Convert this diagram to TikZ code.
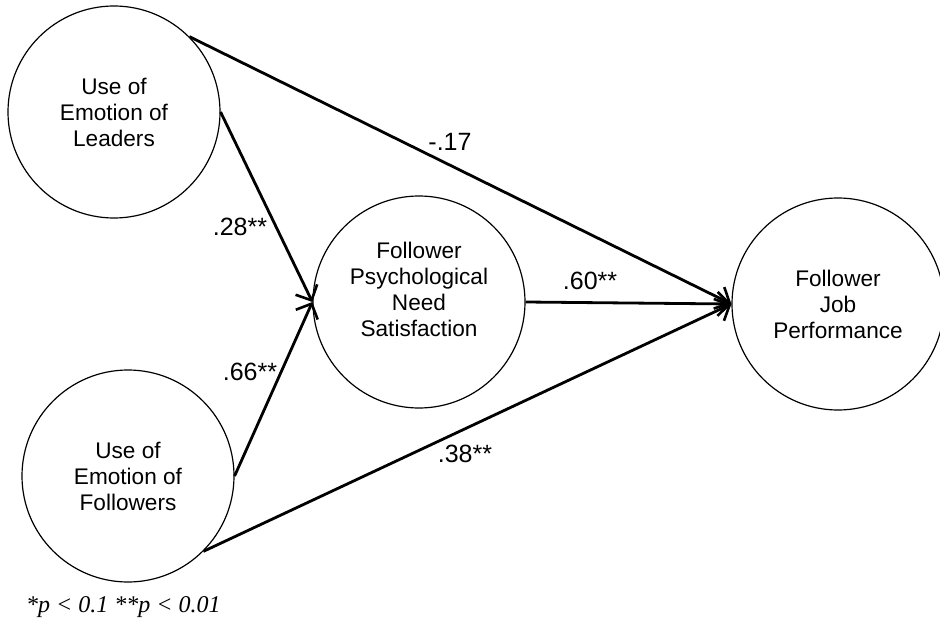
\documentclass[tikz,border=0pt]{standalone}
\usepackage{fontspec}
\setmainfont{Liberation Sans}
\newfontfamily\notefont{Liberation Serif}
\usetikzlibrary{arrows.meta}
\begin{document}
\begin{tikzpicture}[x=1pt,y=-1pt,
  circ/.style={circle,draw=black,line width=1.2pt,minimum size=212pt,inner sep=0pt,
    align=center,font=\fontsize{22.6}{26}\selectfont},
  txt/.style={align=center,font=\fontsize{22.6}{26}\selectfont,inner sep=0pt},
  coef/.style={font=\fontsize{25}{28}\selectfont,inner sep=0pt},
  conn/.style={line width=2.8pt,-{Straight Barb[length=12pt,width=24pt,line width=2.6pt]}}]
\useasboundingbox (0,0) rectangle (940,623);
\node[circ] (L) at (114,112) {Use of\\Emotion of\\Leaders};
\node[circ] (F) at (128,476) {Use of\\Emotion of\\Followers};
\node[circ] (M) at (419,302) {};
\node[txt] (Mt) at (419,289) {Follower\\Psychological\\Need\\Satisfaction};
\node[circ] (R) at (838,304) {Follower\\Job\\Performance};
\draw[conn] (L.45) -- (R.west);
\draw[conn] (L.east) -- (M.west);
\draw[conn] (F.east) -- (M.west);
\draw[conn] (F.-45) -- (R.west);
\draw[conn] (M.east) -- (R.west);
\node[coef] (c1) at (450,142) {-.17};
\node[coef] (c2) at (240,227) {.28**};
\node[coef] (c3) at (250,372) {.66**};
\node[coef] (c4) at (590,281) {.60**};
\node[coef] (c5) at (465,454) {.38**};
\node[anchor=west,inner sep=0pt,font=\notefont\itshape\fontsize{24}{26}\selectfont] (note) at (26,607) {*p < 0.1 **p < 0.01};
\end{tikzpicture}
\end{document}
